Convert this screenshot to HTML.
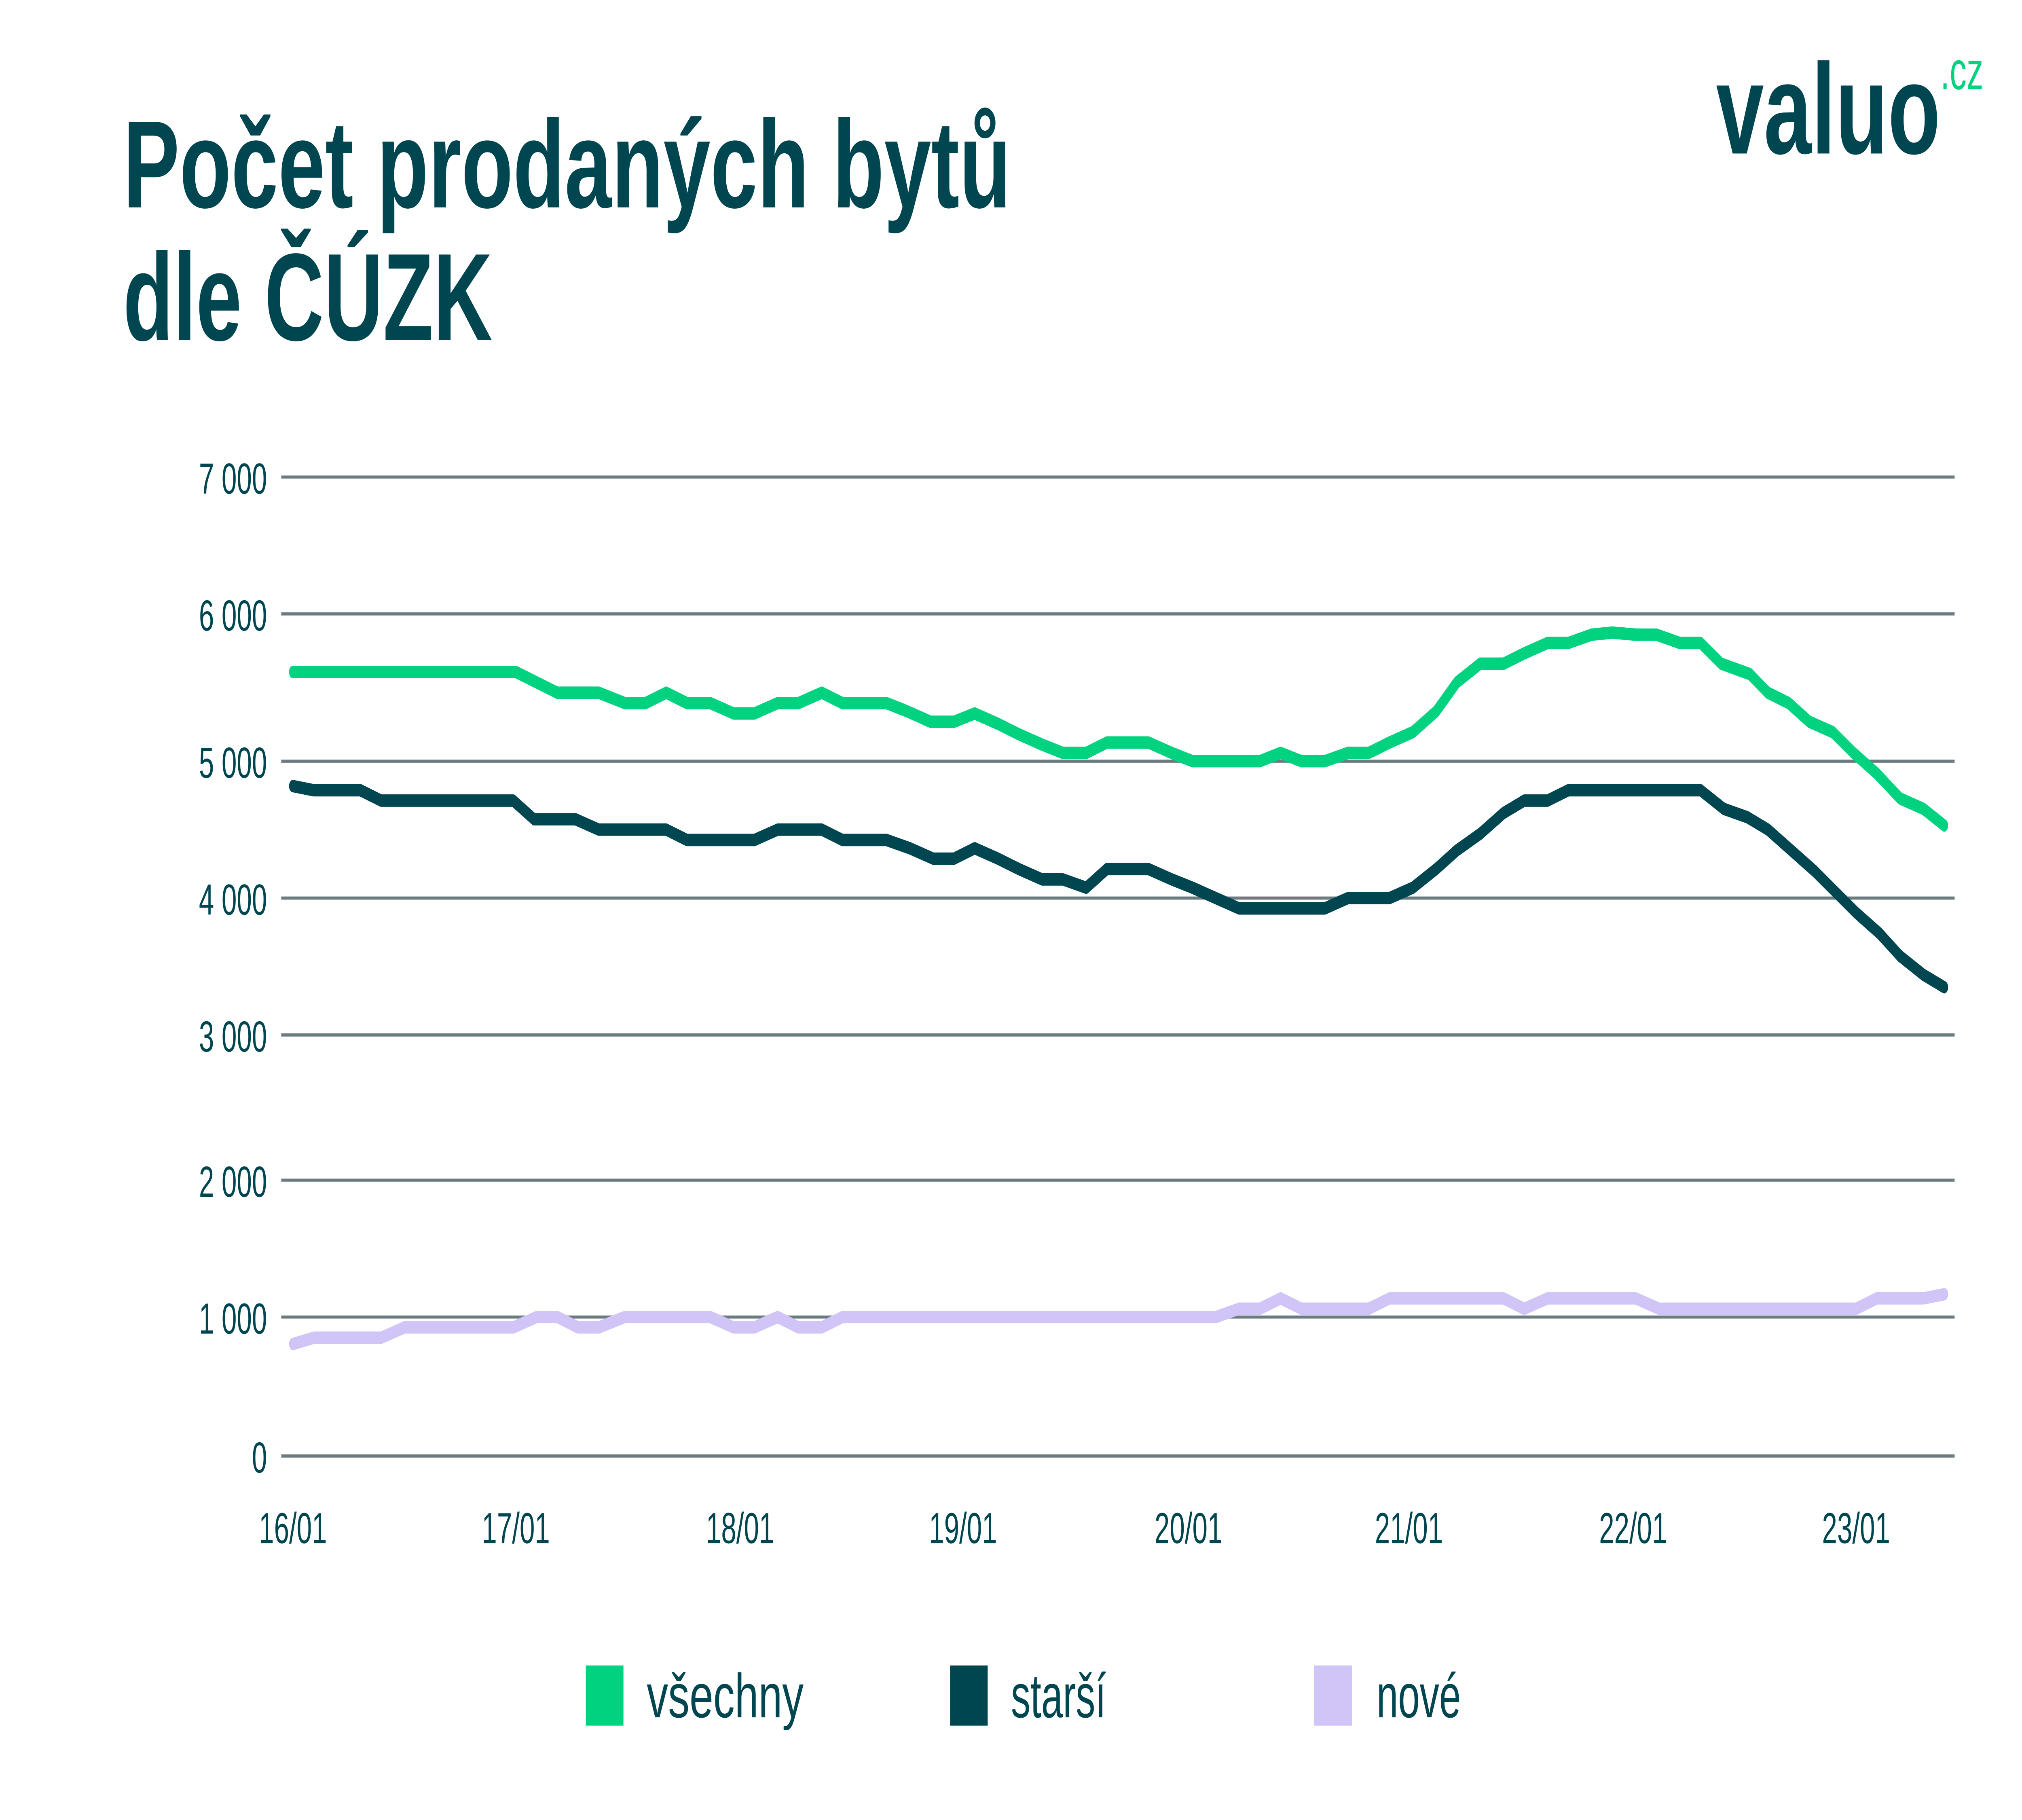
<!DOCTYPE html>
<html><head><meta charset="utf-8"><style>
html,body{margin:0;padding:0;background:#fff;width:100%;height:100%;overflow:hidden;}
svg{display:block;width:100vw;height:100vh;}
</style></head><body>
<svg viewBox="0 0 1560 877.5" preserveAspectRatio="none" xmlns="http://www.w3.org/2000/svg" font-family="'Liberation Sans', sans-serif">
<rect width="1560" height="878" fill="#fff"/>
<text x="95" y="100" font-size="60" font-weight="bold" fill="#004651" textLength="685" lengthAdjust="spacingAndGlyphs">Počet prodaných bytů</text>
<text x="95" y="164" font-size="60" font-weight="bold" fill="#004651" textLength="285" lengthAdjust="spacingAndGlyphs">dle ČÚZK</text>
<text x="1324" y="74" font-size="62" font-weight="bold" fill="#004651" textLength="173" lengthAdjust="spacingAndGlyphs">valuo</text>
<text x="1497" y="43" font-size="26" fill="#00d27f">.cz</text>
<g stroke="#6b7b80" stroke-width="1.5">
<line x1="217" x2="1508" y1="230" y2="230"/><line x1="217" x2="1508" y1="296" y2="296"/>
<line x1="217" x2="1508" y1="367" y2="367"/><line x1="217" x2="1508" y1="433" y2="433"/>
<line x1="217" x2="1508" y1="499" y2="499"/><line x1="217" x2="1508" y1="569" y2="569"/>
<line x1="217" x2="1508" y1="635" y2="635"/><line x1="217" x2="1508" y1="702" y2="702"/>
</g>
<g font-size="21" fill="#004651" text-anchor="end">
<text x="206" y="238">7 000</text><text x="206" y="304">6 000</text><text x="206" y="375">5 000</text>
<text x="206" y="441">4 000</text><text x="206" y="507">3 000</text><text x="206" y="577">2 000</text>
<text x="206" y="643">1 000</text><text x="206" y="710">0</text>
</g>
<g font-size="21" fill="#004651" text-anchor="middle">
<text x="226" y="744">16/01</text><text x="398" y="744">17/01</text><text x="571" y="744">18/01</text>
<text x="743" y="744">19/01</text><text x="917" y="744">20/01</text><text x="1087" y="744">21/01</text>
<text x="1260" y="744">22/01</text><text x="1432" y="744">23/01</text>
</g>
<g fill="none" stroke-width="6" stroke-linejoin="round" stroke-linecap="round">
<polyline stroke="#d1c4f7" points="226,648 242,645 294,645 312,640 396,640 414,635 430,635 446,640 462,640 482,635 548,635 566,640 582,640 600,635 616,640 634,640 650,635 938,635 956,631 972,631 988,626 1004,631 1056,631 1072,626 1160,626 1176,631 1194,626 1262,626 1280,631 1432,631 1448,626 1484,626 1500,624"/>
<polyline stroke="#004651" points="226,379 242,381 278,381 294,386 396,386 412,395 444,395 462,400 514,400 530,405 582,405 600,400 634,400 650,405 684,405 702,409 720,414 736,414 752,409 770,414 786,419 804,424 820,424 838,428 854,419 886,419 904,424 920,428 938,433 956,438 1022,438 1040,433 1072,433 1090,428 1108,419 1124,410 1142,402 1160,392 1176,386 1194,386 1210,381 1312,381 1330,390 1348,394 1364,400 1382,410 1400,420 1416,430 1432,440 1450,450 1466,461 1484,470 1500,476"/>
<polyline stroke="#00d27f" points="226,324 398,324 414,329 430,334 462,334 482,339 498,339 514,334 530,339 548,339 566,344 582,344 600,339 616,339 634,334 650,339 684,339 700,343 718,348 736,348 752,344 770,349 786,354 804,359 820,363 838,363 854,358 886,358 904,363 920,367 936,367 972,367 988,363 1004,367 1022,367 1040,363 1056,363 1072,358 1090,353 1108,343 1124,329 1142,320 1160,320 1176,315 1194,310 1210,310 1228,306 1244,305 1262,306 1278,306 1296,310 1312,310 1328,320 1350,325 1364,334 1380,339 1396,348 1414,353 1430,363 1448,373 1466,385 1484,390 1500,398"/>
</g>
<rect x="452" y="803" width="29" height="29" fill="#00d27f"/>
<rect x="733" y="803" width="29" height="29" fill="#004651"/>
<rect x="1014" y="803" width="29" height="29" fill="#d1c4f7"/>
<g font-size="30" fill="#004651">
<text x="499" y="828" textLength="121" lengthAdjust="spacingAndGlyphs">všechny</text><text x="780" y="828">starší</text><text x="1062" y="828">nové</text>
</g>
</svg>
</body></html>
